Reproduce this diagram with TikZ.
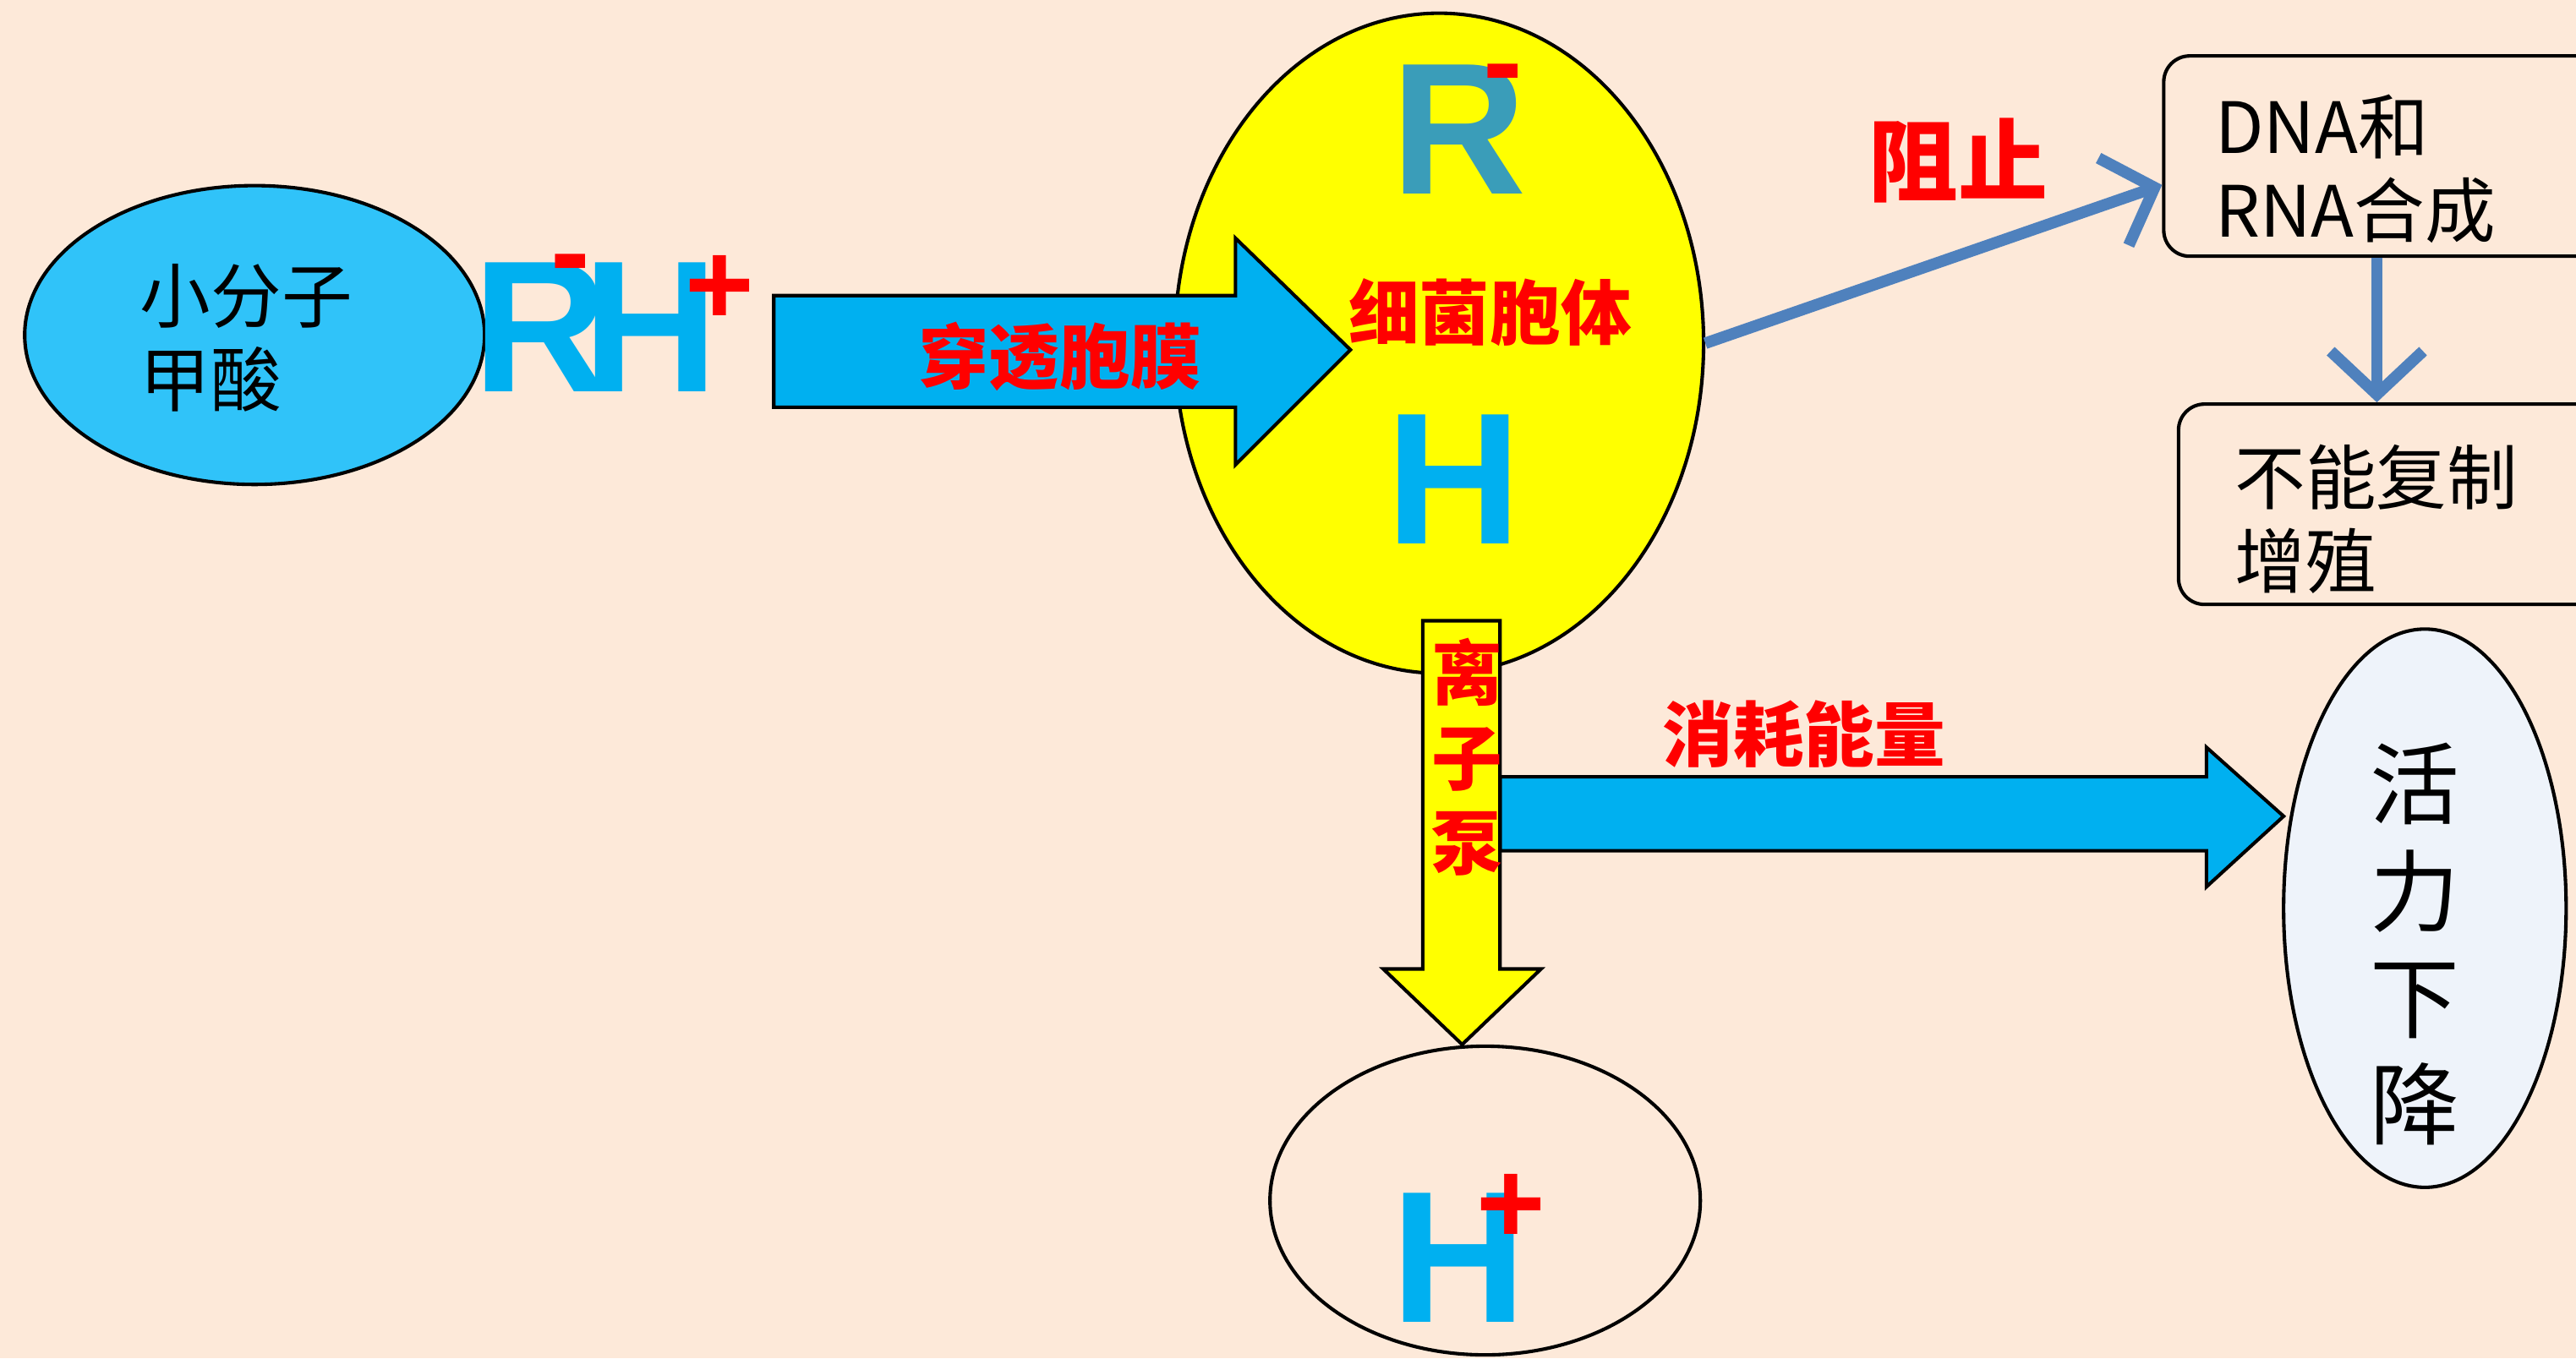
\documentclass[tikz,border=0pt]{standalone}
\usepackage{fontspec}
\setmainfont{Noto Sans CJK SC}
\newfontfamily\ionfont{Liberation Sans}
\usetikzlibrary{shapes.geometric,arrows.meta}
\definecolor{bgpeach}{HTML}{FDE9D9}
\definecolor{skyfill}{HTML}{00B0F0}
\definecolor{molfill}{HTML}{30C3F9}
\definecolor{rteal}{HTML}{3A9DB9}
\definecolor{lineblue}{HTML}{4F81BD}
\definecolor{paleblue}{HTML}{EEF3FA}
\definecolor{cellyellow}{HTML}{FFFF00}
\tikzset{
    bubble/.style={ellipse, draw, line width=1.2pt},
    infobox/.style={draw, rounded corners=9pt, line width=1.2pt, anchor=north west,
        minimum width=5.4cm, minimum height=2.44cm},
    blktxt/.style={align=left, inner sep=0pt, font=\fontsize{24.5}{29}\selectfont},
    redlbl/.style={text=red, font=\fontsize{24.5}{29.5}\selectfont\bfseries},
    ion/.style={inner sep=0pt, font=\ionfont\bfseries\fontsize{65}{65}\selectfont},
    charge/.style={inner sep=0pt, anchor=base, text=red, font=\ionfont\bfseries\fontsize{41}{41}\selectfont},
    barb/.style={draw=lineblue, line width=4pt, -{Straight Barb[length=15pt,width=32pt]}},
    block/.style={draw=black, line width=1.2pt, line join=miter}
}
\begin{document}
\begin{tikzpicture}[x=0.02cm, y=-0.02cm]
    \useasboundingbox (0,0) rectangle (1568,827);
    \fill[bgpeach] (0,0) rectangle (1568,827);

    % 小分子甲酸
    \node[bubble, fill=molfill, minimum width=5.6cm, minimum height=3.64cm] (acid) at (155,204) {};
    \node[blktxt, anchor=west] (acidtxt) at (85,206) {小分子\\甲酸};
    \node[ion, text=skyfill] (aR) at (329,199) {R};
    \node[ion, text=skyfill] (aH) at (396,199) {H};
    \node[charge] (aminus) at (347,178) {-};
    \node[charge] (aplus) at (438,198) {+};

    % 细菌胞体
    \node[bubble, fill=cellyellow, minimum width=6.44cm, minimum height=8.04cm] (cell) at (876,209) {};
    \path[fill=skyfill, block] (471,180) -- (752,180) -- (752,145) -- (822,213) -- (752,283) -- (752,248) -- (471,248) -- cycle;
    \node[redlbl] (enter) at (645,217) {穿透胞膜};
    \node[ion, text=rteal] (cR) at (888,79) {R};
    \node[charge] (cminus) at (915,62) {-};
    \node[redlbl] (celltxt) at (907,190) {细菌胞体};
    \node[ion, text=skyfill] (cH) at (885,292) {H};

    % 阻止 -> DNA和RNA合成 -> 不能复制增殖
    \node[infobox] (dna) at (1316,33) {};
    \node[blktxt, anchor=west] (dnatxt) at (1348,103) {DNA和\\RNA合成};
    \node[infobox] (nocopy) at (1325,245) {};
    \node[blktxt, anchor=west] (nocopytxt) at (1360,316) {不能复制\\增殖};
    \draw[barb] (cell.east) -- ([yshift=-10pt]dna.west);
    \node[redlbl, font=\fontsize{31}{31}\selectfont\bfseries] (stop) at (1192,98) {阻止};
    \draw[barb] ([xshift=-3pt]dna.south) -- ([xshift=-3pt]dna.south |- nocopy.north);

    % 离子泵, 消耗能量
    \path[fill=skyfill, block] (913,473) -- (1343,473) -- (1343,455) -- (1390,497) -- (1343,540) -- (1343,518) -- (913,518) -- cycle;
    \node[redlbl] (energy) at (1098,447) {消耗能量};
    \path[fill=cellyellow, block] (866,378) -- (913,378) -- (913,590) -- (938,590) -- (890,636) -- (842,590) -- (866,590) -- cycle;
    \node[redlbl, align=center] (pump) at (893,461) {离\\子\\泵};

    % 活力下降
    \node[bubble, fill=paleblue, minimum width=3.44cm, minimum height=6.8cm] (vigor) at (1476,553) {};
    \node[align=center, font=\fontsize{31}{37}\selectfont] (vigortxt) at (1470,575) {活\\力\\下\\降};

    % H+
    \node[bubble, minimum width=5.24cm, minimum height=3.76cm] (proton) at (904,731) {};
    \node[ion, text=skyfill] (pH) at (888,766) {H};
    \node[charge] (pplus) at (920,757) {+};
\end{tikzpicture}
\end{document}
